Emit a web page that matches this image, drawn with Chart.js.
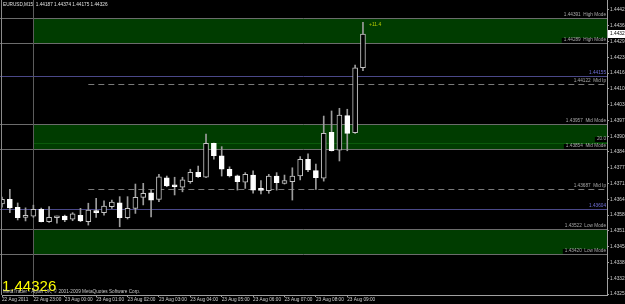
<!DOCTYPE html>
<html>
<head>
<meta charset="utf-8">
<script src="https://cdn.jsdelivr.net/npm/chart.js@4.4.1/dist/chart.umd.min.js"></script>
<style>
  html, body { margin: 0; padding: 0; background: #000; }
  canvas { display: block; }
</style>
</head>
<body>
<canvas id="c" width="625" height="304"></canvas>
<script>
// EURUSD M15, 22 Aug 22:00 .. 23 Aug 09:30
const opens = [1.43626, 1.43645, 1.43612, 1.43571, 1.43576, 1.43604, 1.43553, 1.43569, 1.43576, 1.43563,
  1.43579, 1.43553, 1.43598, 1.43590, 1.43615, 1.43631, 1.43569, 1.43608, 1.43653, 1.43672,
  1.43645, 1.43734, 1.43700, 1.43695, 1.43718, 1.43756, 1.43736, 1.43876, 1.43824, 1.43769,
  1.43742, 1.43716, 1.43745, 1.43686, 1.43681, 1.43741, 1.43711, 1.43718, 1.43741, 1.43810,
  1.43763, 1.43732, 1.43921, 1.43848, 1.43990, 1.43920, 1.44187];
const highs = [1.43654, 1.43686, 1.43630, 1.43610, 1.43621, 1.43609, 1.43615, 1.43576, 1.43580, 1.43590,
  1.43608, 1.43629, 1.43649, 1.43639, 1.43642, 1.43656, 1.43656, 1.43708, 1.43711, 1.43683,
  1.43748, 1.43741, 1.43736, 1.43736, 1.43769, 1.43782, 1.43914, 1.43877, 1.43862, 1.43779,
  1.43745, 1.43755, 1.43762, 1.43722, 1.43748, 1.43755, 1.43745, 1.43775, 1.43821, 1.43832,
  1.43790, 1.43988, 1.44009, 1.44020, 1.44016, 1.44198, 1.44374];
const lows = [1.43613, 1.43590, 1.43560, 1.43556, 1.43571, 1.43552, 1.43550, 1.43547, 1.43553, 1.43557,
  1.43553, 1.43539, 1.43571, 1.43580, 1.43608, 1.43532, 1.43564, 1.43587, 1.43622, 1.43573,
  1.43635, 1.43697, 1.43663, 1.43676, 1.43711, 1.43735, 1.43734, 1.43810, 1.43741, 1.43737,
  1.43683, 1.43690, 1.43670, 1.43667, 1.43670, 1.43683, 1.43708, 1.43642, 1.43725, 1.43759,
  1.43686, 1.43720, 1.43844, 1.43803, 1.43845, 1.43917, 1.44175];
const closes = [1.43645, 1.43610, 1.43569, 1.43579, 1.43604, 1.43553, 1.43571, 1.43573, 1.43560, 1.43585,
  1.43556, 1.43601, 1.43590, 1.43617, 1.43634, 1.43569, 1.43608, 1.43653, 1.43670, 1.43642,
  1.43738, 1.43700, 1.43697, 1.43725, 1.43756, 1.43738, 1.43876, 1.43825, 1.43769, 1.43741,
  1.43718, 1.43748, 1.43683, 1.43682, 1.43741, 1.43714, 1.43722, 1.43741, 1.43810, 1.43766,
  1.43734, 1.43917, 1.43845, 1.43992, 1.43917, 1.44187, 1.44326];

const xTickIdx = [0, 4, 8, 12, 16, 20, 24, 28, 32, 36, 40, 44];
const xTickLabels = ['22 Aug 2011', '22 Aug 23:00', '23 Aug 00:00', '23 Aug 01:00', '23 Aug 02:00',
  '23 Aug 03:00', '23 Aug 04:00', '23 Aug 05:00', '23 Aug 06:00', '23 Aug 07:00', '23 Aug 08:00', '23 Aug 09:00'];
const yTicks = [1.44425, 1.44360, 1.44295, 1.44230, 1.44165, 1.44100, 1.44035, 1.43970, 1.43905, 1.43840,
  1.43775, 1.43710, 1.43645, 1.43580, 1.43515, 1.43450, 1.43385, 1.43320, 1.43255];

// zones and levels
const zoneNames = ['High Mode', 'Mid Mode', 'Low Mode'];
const zoneTop = [1.44391, 1.43957, 1.43522];
const zoneBottom = [1.44289, 1.43854, 1.43420];
const pivotLevels = [1.44155, 1.43604];
const midIpLevels = [1.44122, 1.43687];
const midInnerLevel = 1.43878;
const zoneStartIdx = 4;
const dashStartIdx = 11;
const lastPrice = 1.44326;
const header = 'EURUSD,M15  1.44187 1.44374 1.44175 1.44326';

const FONT = "'Liberation Sans', Arial, sans-serif";
const idx = opens.map((_, i) => i);

function hline(ctx, x1, x2, yy, color, dash) {
  ctx.save();
  ctx.strokeStyle = color;
  ctx.lineWidth = 1;
  if (dash) ctx.setLineDash(dash);
  ctx.beginPath();
  ctx.moveTo(x1, Math.round(yy) + 0.5);
  ctx.lineTo(x2, Math.round(yy) + 0.5);
  ctx.stroke();
  ctx.restore();
}

function label(ctx, text, right, yy, color) {
  ctx.font = '4.7px ' + FONT;
  const w = ctx.measureText(text).width;
  ctx.fillStyle = '#000';
  ctx.fillRect(right - w - 2, Math.round(yy) - 5, w + 3, 5);
  ctx.fillStyle = color;
  ctx.textAlign = 'right';
  ctx.textBaseline = 'bottom';
  ctx.fillText(text, right, Math.round(yy) - 0.5);
}

const overlay = {
  id: 'overlay',
  beforeDraw(chart) {
    const ctx = chart.ctx;
    ctx.save();
    ctx.fillStyle = '#000';
    ctx.fillRect(0, 0, chart.width, chart.height);
    ctx.restore();
  },
  beforeDatasetsDraw(chart) {
    const { ctx, chartArea: a, scales: { x, y } } = chart;
    ctx.save();
    const zx = Math.round(x.getPixelForValue(zoneStartIdx));
    zoneTop.forEach((t, k) => {
      const y1 = Math.round(y.getPixelForValue(t));
      const y2 = Math.round(y.getPixelForValue(zoneBottom[k]));
      ctx.fillStyle = '#003c00';
      ctx.fillRect(zx, y1, a.right - zx, y2 - y1);
      hline(ctx, 0, a.right, y1, '#6c6c6c');
      hline(ctx, 0, a.right, y2, '#6c6c6c');
    });
    hline(ctx, zx, a.right, y.getPixelForValue(midInnerLevel), '#0a5a0a');
    pivotLevels.forEach(v => hline(ctx, 0, a.right, y.getPixelForValue(v), '#4a4888'));
    const dx = x.getPixelForValue(dashStartIdx);
    midIpLevels.forEach(v => hline(ctx, dx, a.right, y.getPixelForValue(v), '#7a7a7a', [6, 4]));
    // separator
    ctx.strokeStyle = '#5c5c5c';
    ctx.beginPath();
    ctx.moveTo(zx + 0.5, 0);
    ctx.lineTo(zx + 0.5, a.bottom);
    ctx.stroke();
    ctx.restore();
  },
  afterDatasetsDraw(chart) {
    const { ctx, chartArea: a, scales: { y } } = chart;
    ctx.save();
    const r = a.right - 1;
    zoneTop.forEach((t, k) => {
      label(ctx, t.toFixed(5) + '  ' + zoneNames[k], r, y.getPixelForValue(t), '#a8a8a8');
      label(ctx, zoneBottom[k].toFixed(5) + '  ' + zoneNames[k], r, y.getPixelForValue(zoneBottom[k]), '#a8a8a8');
    });
    label(ctx, '20.0', r, y.getPixelForValue(midInnerLevel) - 1, '#a8a8a8');
    pivotLevels.forEach(v => label(ctx, v.toFixed(5), r, y.getPixelForValue(v), '#7070d8'));
    midIpLevels.forEach(v => label(ctx, v.toFixed(5) + '  Mid Ip', r, y.getPixelForValue(v), '#a8a8a8'));
    ctx.restore();
  },
  afterDraw(chart) {
    const { ctx, chartArea: a, scales: { x, y } } = chart;
    ctx.save();
    // left frame
    ctx.strokeStyle = '#8a8a8a';
    ctx.beginPath();
    ctx.moveTo(1.5, 0);
    ctx.lineTo(1.5, a.bottom);
    ctx.stroke();
    // header
    ctx.font = '4.7px ' + FONT;
    ctx.fillStyle = '#e0e0e0';
    ctx.textAlign = 'left';
    ctx.textBaseline = 'middle';
    ctx.fillText(header, 3, 5);
    // big price
    ctx.font = '15px ' + FONT;
    ctx.fillStyle = '#ffff00';
    ctx.textBaseline = 'alphabetic';
    ctx.fillText(lastPrice.toFixed(5), 2, 291);
    ctx.font = '4.7px ' + FONT;
    ctx.fillStyle = '#c8c8c8';
    ctx.textBaseline = 'middle';
    ctx.fillText('MetaTrader - Alpari UK, \u00a9 2001-2009 MetaQuotes Software Corp.', 3, 292);
    // spread label
    ctx.font = '5px ' + FONT;
    ctx.fillStyle = '#b4c800';
    ctx.fillText('+11.4', x.getPixelForValue(46) + 6, 25);
    // current price tag on axis
    const py = Math.round(y.getPixelForValue(lastPrice));
    ctx.fillStyle = '#ffffff';
    ctx.fillRect(a.right + 1, py - 4, 18, 8);
    ctx.fillStyle = '#000';
    ctx.font = '4.8px ' + FONT;
    ctx.fillText(lastPrice.toFixed(5), a.right + 3, py);
    ctx.restore();
  }
};

new Chart(document.getElementById('c'), {
  type: 'bar',
  data: {
    datasets: [
      {
        label: 'body',
        data: idx.map(i => ({ x: i, y: [opens[i], closes[i]] })),
        backgroundColor: idx.map(i => closes[i] >= opens[i] ? '#000000' : '#ffffff'),
        borderColor: idx.map(i => closes[i] >= opens[i] ? '#c4c4c4' : '#ffffff'),
        borderWidth: 1,
        borderSkipped: false,
        barThickness: 5,
        minBarLength: 2,
        grouped: false,
        order: 0
      },
      {
        label: 'wick',
        data: idx.map(i => ({ x: i, y: [lows[i], highs[i]] })),
        backgroundColor: '#9c9c9c',
        barThickness: 1,
        grouped: false,
        order: 1
      }
    ]
  },
  options: {
    responsive: false,
    animation: false,
    devicePixelRatio: 1,
    layout: { padding: { left: 2, top: 0, right: 0, bottom: 0 } },
    plugins: { legend: { display: false }, tooltip: { enabled: false } },
    scales: {
      x: {
        type: 'linear',
        offset: false,
        min: 0,
        max: 77.1,
        afterBuildTicks: s => { s.ticks = xTickIdx.map(v => ({ value: v })); },
        afterFit: s => { s.height = 9; s.paddingLeft = 0; s.paddingRight = 0; },
        grid: { drawOnChartArea: false, drawTicks: true, tickLength: 2, color: '#a0a0a0', offset: false },
        border: { color: '#a0a0a0' },
        ticks: {
          autoSkip: false, maxRotation: 0, align: 'start', padding: 0,
          color: '#d0d0d0', font: { family: FONT, size: 4.7 },
          callback: (v, i) => xTickLabels[i]
        }
      },
      y: {
        position: 'right',
        min: 1.43251,
        max: 1.44466,
        afterBuildTicks: s => { s.ticks = yTicks.map(v => ({ value: v })); },
        afterFit: s => { s.width = 18; s.paddingTop = 0; s.paddingBottom = 0; },
        grid: { drawOnChartArea: false, drawTicks: true, tickLength: 2, color: '#a0a0a0' },
        border: { color: '#a0a0a0' },
        ticks: {
          autoSkip: false, padding: 1,
          color: '#d0d0d0', font: { family: FONT, size: 4.8 },
          callback: v => v.toFixed(5)
        }
      }
    }
  },
  plugins: [overlay]
});
</script>
</body>
</html>
